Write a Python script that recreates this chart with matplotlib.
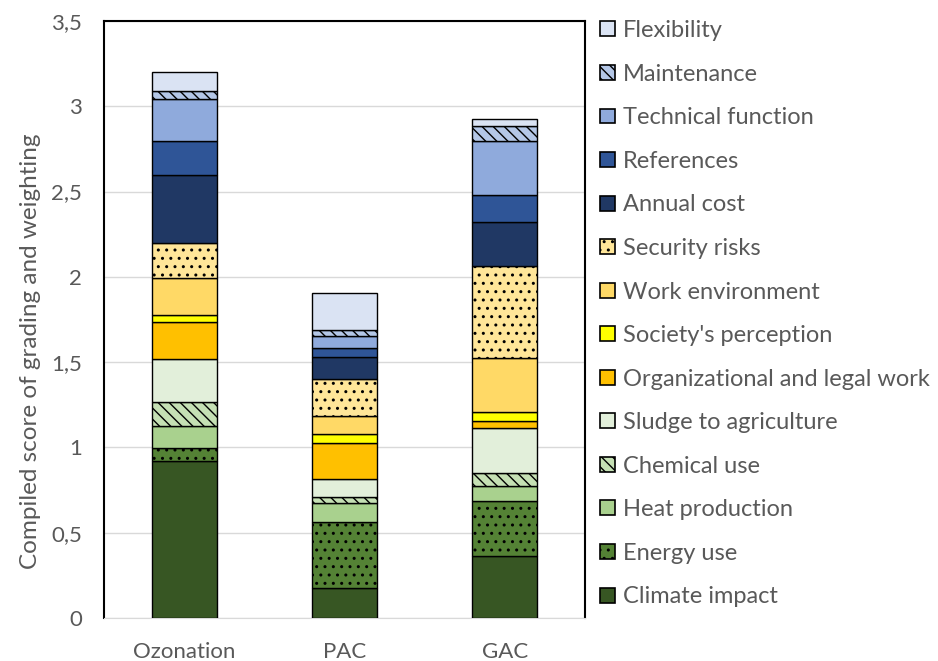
import numpy as np
import matplotlib
matplotlib.use("Agg")
import matplotlib.pyplot as plt
from matplotlib.patches import Patch
from matplotlib.ticker import FuncFormatter

# Data
methods = ["Ozonation", "PAC", "GAC"]
criteria = ["Climate impact", "Energy use", "Heat production", "Chemical use",
            "Sludge to agriculture", "Organizational and legal work",
            "Society's perception", "Work environment", "Security risks",
            "Annual cost", "References", "Technical function", "Maintenance",
            "Flexibility"]
climate = [0.92, 0.175, 0.365]
energy = [0.075, 0.387, 0.323]
heat = [0.13, 0.115, 0.086]
chemical = [0.139, 0.031, 0.078]
sludge = [0.252, 0.108, 0.263]
organizational = [0.219, 0.211, 0.039]
society = [0.041, 0.053, 0.054]
work_env = [0.217, 0.107, 0.319]
security = [0.207, 0.215, 0.535]
annual_cost = [0.397, 0.127, 0.26]
references = [0.199, 0.053, 0.157]
technical = [0.246, 0.074, 0.316]
maintenance = [0.049, 0.033, 0.09]
flexibility = [0.111, 0.215, 0.043]

series = [climate, energy, heat, chemical, sludge, organizational, society,
          work_env, security, annual_cost, references, technical, maintenance,
          flexibility]
colors = ["#375623", "#548235", "#A9D18E", "#C5E0B4", "#E2EFDA", "#FFC000",
          "#FFFF00", "#FFD966", "#FFE699", "#203864", "#2F5597", "#8FAADC",
          "#B4C7E7", "#DAE3F3"]
hatches = [None, "..", None, "\\\\\\", None, None, None, None, "..", None,
           None, None, "\\\\\\", None]

plt.rcParams["font.family"] = ["Lato", "DejaVu Sans"]
plt.rcParams["hatch.linewidth"] = 1.0
grey = "#595959"

fig = plt.figure(figsize=(9.38, 6.61), dpi=100)
ax = fig.add_axes([104/938, 43/661, 481/938, 597/661])

x = np.arange(len(methods))
bottom = np.zeros(len(methods))
for vals, col, h, name in zip(series, colors, hatches, criteria):
    ax.bar(x, vals, 0.405, bottom=bottom, color=col, edgecolor="black",
           linewidth=1.0, hatch=h, label=name, zorder=3)
    bottom += np.array(vals)

ax.set_xlim(-0.5, 2.5)
ax.set_ylim(0, 3.5)
ax.set_yticks(np.arange(0, 3.51, 0.5))
ax.yaxis.set_major_formatter(FuncFormatter(lambda v, p: f"{v:g}".replace(".", ",")))
ax.set_xticks(x)
ax.set_xticklabels(methods)
ax.tick_params(axis="both", length=0, labelsize=16, colors=grey)
ax.tick_params(axis="x", pad=17)
ax.tick_params(axis="y", pad=16)
ax.grid(axis="y", color="#D9D9D9", linewidth=1.0, zorder=0)
for s in ["left", "right", "top"]:
    ax.spines[s].set_color("black")
    ax.spines[s].set_linewidth(1.5)
ax.spines["bottom"].set_color("#D9D9D9")
ax.set_ylabel("Compiled score of grading and weighting", fontsize=17.5,
              color=grey)
ax.yaxis.set_label_coords(-0.13, 0.446)

handles = [Patch(facecolor=c, edgecolor="black", hatch=h, linewidth=1.2)
           for c, h in zip(colors, hatches)]
leg = ax.legend(handles[::-1], criteria[::-1], loc="upper left",
                bbox_to_anchor=(1.0, 1.027), frameon=False, fontsize=17,
                handlelength=0.6, handleheight=0.6, handletextpad=0.35,
                labelspacing=0.955, borderaxespad=0.25)
for t in leg.get_texts():
    t.set_color(grey)

fig.savefig("out.png", dpi=100)
